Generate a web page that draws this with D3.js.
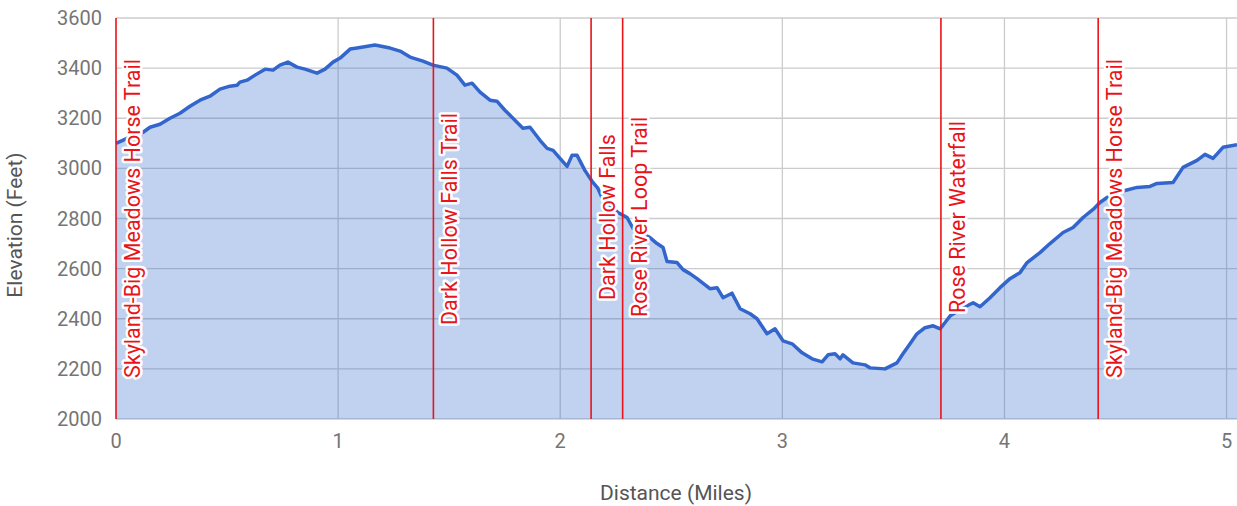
<!DOCTYPE html>
<html>
<head>
  <meta charset="utf-8" />
  <title>Elevation Profile</title>
  <script src="https://cdn.jsdelivr.net/npm/d3@7"></script>
  <style>
    body { margin: 0; background: white; }
    svg { font-family: Roboto, Arial, sans-serif; }
    .tick-label { fill: #757575; font-size: 20px; }
    .axis-title { fill: #555; font-size: 21px; }
    .marker-label { fill: #e8141a; font-size: 21.5px; stroke: white; stroke-width: 5px; paint-order: stroke; stroke-linejoin: round; }
  </style>
</head>
<body>
  <svg id="chart" width="1237" height="506"></svg>
  <script>
    // distance along the trail (miles) and elevation (feet)
    var distance = [0, 0.050, 0.122, 0.153, 0.198, 0.243, 0.288, 0.333, 0.378, 0.423, 0.468, 0.513, 0.545, 0.558,
      0.590, 0.626, 0.671, 0.707, 0.738, 0.774, 0.815, 0.851, 0.905, 0.941, 0.977, 1.009, 1.054, 1.085, 1.166,
      1.234, 1.279, 1.324, 1.382, 1.427, 1.490, 1.535, 1.571, 1.603, 1.639, 1.684, 1.715, 1.751, 1.796, 1.832,
      1.864, 1.909, 1.941, 1.968, 1.999, 2.031, 2.053, 2.076, 2.111, 2.147, 2.170, 2.188, 2.260, 2.301, 2.328,
      2.404, 2.436, 2.463, 2.481, 2.526, 2.553, 2.584, 2.616, 2.674, 2.706, 2.733, 2.773, 2.810, 2.855, 2.886,
      2.931, 2.967, 3.003, 3.044, 3.089, 3.134, 3.179, 3.206, 3.237, 3.260, 3.273, 3.318, 3.372, 3.395, 3.462,
      3.516, 3.543, 3.575, 3.606, 3.642, 3.679, 3.711, 3.756, 3.814, 3.859, 3.890, 3.935, 3.980, 4.025, 4.070,
      4.102, 4.160, 4.205, 4.264, 4.309, 4.354, 4.399, 4.430, 4.462, 4.543, 4.597, 4.655, 4.687, 4.759, 4.804,
      4.867, 4.903, 4.939, 4.984, 5.047];
    var elevation = [3100, 3120, 3144, 3164, 3176, 3200, 3220, 3248, 3272, 3288, 3316, 3328, 3332, 3344,
      3352, 3372, 3396, 3392, 3412, 3424, 3404, 3396, 3380, 3396, 3424, 3440, 3476, 3480, 3492,
      3480, 3468, 3444, 3428, 3412, 3400, 3372, 3332, 3340, 3304, 3272, 3268, 3232, 3192, 3160,
      3164, 3112, 3080, 3072, 3040, 3008, 3052, 3052, 2992, 2944, 2920, 2884, 2824, 2804, 2760,
      2724, 2700, 2684, 2628, 2624, 2596, 2580, 2560, 2520, 2524, 2484, 2502, 2440, 2420, 2400,
      2340, 2360, 2312, 2300, 2264, 2240, 2228, 2256, 2260, 2240, 2256, 2224, 2216, 2204, 2200,
      2224, 2260, 2300, 2340, 2364, 2372, 2360, 2412, 2444, 2464, 2448, 2484, 2524, 2560, 2584,
      2624, 2664, 2700, 2744, 2764, 2804, 2836, 2864, 2884, 2912, 2924, 2928, 2940, 2944, 3004,
      3032, 3056, 3040, 3084, 3094];

    var markerNames = ["Skyland-Big Meadows Horse Trail", "Dark Hollow Falls Trail", "Dark Hollow Falls",
      "Rose River Loop Trail", "Rose River Waterfall", "Skyland-Big Meadows Horse Trail"];
    var markerDistance = [0, 1.429, 2.139, 2.281, 3.714, 4.422];

    var xTicks = [0, 1, 2, 3, 4, 5];
    var yTicks = [2000, 2200, 2400, 2600, 2800, 3000, 3200, 3400, 3600];

    // where each marker label's text starts (pixel y), as laid out in the chart
    var labelBottom = [378, 325, 300, 317, 313, 378];

    var svg = d3.select('#chart');
    var plotLeft = 116, plotRight = 1237, plotTop = 18, plotBottom = 419;

    var x = d3.scaleLinear().domain([0, 5.047]).range([plotLeft, plotRight]);
    var y = d3.scaleLinear().domain([2000, 3600]).range([plotBottom, plotTop]);

    var points = distance.map(function (d, i) { return [d, elevation[i]]; });

    // gridlines
    svg.append('g').selectAll('line').data(yTicks).enter().append('line')
      .attr('x1', plotLeft).attr('x2', plotRight)
      .attr('y1', function (d) { return y(d); }).attr('y2', function (d) { return y(d); })
      .attr('stroke', '#cccccc').attr('stroke-width', 1.3);
    svg.append('g').selectAll('line').data(xTicks.slice(1)).enter().append('line')
      .attr('x1', function (d) { return x(d); }).attr('x2', function (d) { return x(d); })
      .attr('y1', plotTop).attr('y2', plotBottom)
      .attr('stroke', '#cccccc').attr('stroke-width', 1.3);

    // area and line
    var area = d3.area().x(function (d) { return x(d[0]); }).y0(y(2000)).y1(function (d) { return y(d[1]); });
    var line = d3.line().x(function (d) { return x(d[0]); }).y(function (d) { return y(d[1]); });

    svg.append('path').datum(points).attr('d', area)
      .attr('fill', '#3366cc').attr('fill-opacity', 0.3);
    svg.append('path').datum(points).attr('d', line)
      .attr('fill', 'none').attr('stroke', '#3366cc').attr('stroke-width', 3.5).attr('stroke-linejoin', 'round');

    // marker lines and labels
    var markers = svg.append('g').selectAll('g').data(markerNames).enter().append('g');
    markers.append('line')
      .attr('x1', function (d, i) { return x(markerDistance[i]); })
      .attr('x2', function (d, i) { return x(markerDistance[i]); })
      .attr('y1', plotTop).attr('y2', plotBottom)
      .attr('stroke', '#e8141a').attr('stroke-width', 1.6);
    markers.append('text')
      .attr('class', 'marker-label')
      .attr('transform', function (d, i) {
        return 'translate(' + (x(markerDistance[i]) + 24) + ',' + labelBottom[i] + ') rotate(-90)';
      })
      .text(function (d) { return d; });

    // axes labels
    svg.append('g').selectAll('text').data(yTicks).enter().append('text')
      .attr('class', 'tick-label')
      .attr('x', 102).attr('y', function (d) { return y(d); })
      .attr('dy', '0.35em').attr('text-anchor', 'end')
      .text(function (d) { return d; });
    svg.append('g').selectAll('text').data(xTicks).enter().append('text')
      .attr('class', 'tick-label')
      .attr('x', function (d) { return x(d); }).attr('y', 441)
      .attr('dy', '0.35em').attr('text-anchor', 'middle')
      .text(function (d) { return d; });

    svg.append('text').attr('class', 'axis-title')
      .attr('x', 676).attr('y', 493).attr('dy', '0.35em').attr('text-anchor', 'middle')
      .text('Distance (Miles)');
    svg.append('text').attr('class', 'axis-title')
      .attr('transform', 'translate(15,225) rotate(-90)').attr('dy', '0.35em').attr('text-anchor', 'middle')
      .text('Elevation (Feet)');
  </script>
</body>
</html>
